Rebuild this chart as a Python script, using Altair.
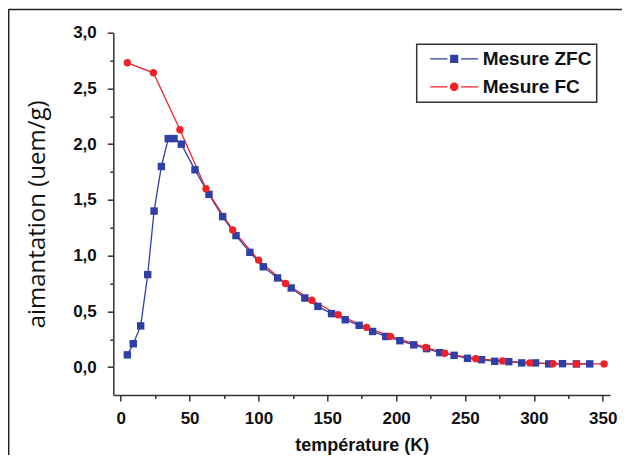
import altair as alt
import pandas as pd

# ---- data ----
zfc_T = [4.8, 9.1, 14.5, 19.6, 24.2, 29.5, 34.5, 38.7, 44.0, 53.9, 64.1, 74.0, 83.7,
         93.8, 103.5, 113.9, 123.8, 133.7, 143.2, 153.1, 163.0, 173.1, 182.9, 192.5,
         202.7, 212.8, 222.1, 231.7, 242.1, 251.8, 262.0, 271.6, 281.8, 291.2, 301.2,
         310.8, 320.8, 330.9, 340.6]
zfc_M = [0.11, 0.21, 0.37, 0.83, 1.40, 1.80, 2.05, 2.05, 2.00, 1.77, 1.55, 1.35, 1.18,
         1.03, 0.90, 0.80, 0.71, 0.62, 0.545, 0.48, 0.425, 0.375, 0.32, 0.275,
         0.237, 0.20, 0.166, 0.13, 0.106, 0.079, 0.067, 0.052, 0.049, 0.038, 0.038,
         0.029, 0.031, 0.029, 0.029]
fc_T = [4.8, 23.7, 43.0, 61.9, 81.3, 100.1, 119.7, 138.8, 157.9, 178.5, 195.9, 221.6,
        235.3, 257.8, 277.2, 297.0, 313.9, 330.9, 351.0]
fc_M = [2.73, 2.64, 2.13, 1.60, 1.23, 0.96, 0.75, 0.60, 0.47, 0.357, 0.276, 0.177,
        0.124, 0.076, 0.056, 0.038, 0.031, 0.029, 0.029]

series_names = ["Mesure ZFC", "Mesure FC"]
series_colors = ["#2f3fa5", "#ee2229"]
series_shapes = ["square", "circle"]

x_major = [0, 50, 100, 150, 200, 250, 300, 350]
x_minor = [25, 75, 125, 175, 225, 275, 325]
y_major = [0.0, 0.5, 1.0, 1.5, 2.0, 2.5, 3.0]
y_minor = [0.25, 0.75, 1.25, 1.75, 2.25, 2.75]

df = pd.concat([
    pd.DataFrame({"T": zfc_T, "M": zfc_M, "serie": series_names[0], "k": 0}),
    pd.DataFrame({"T": fc_T, "M": fc_M, "serie": series_names[1], "k": 1}),
], ignore_index=True)

LAB_FONT = "Liberation Sans"
AX_COL = "#333333"

xscale = alt.Scale(domain=[-5.4, 355.3], nice=False, zero=False)
yscale = alt.Scale(domain=[-0.25, 3.0], nice=False, zero=False)
cscale = alt.Scale(domain=series_names, range=series_colors)

# legend symbols: line - marker - line (wide paths, small nominal size)
path_zfc = "M-3,0H-0.85M0.85,0H3M-0.43,-0.43H0.43V0.43H-0.43Z"
path_fc = "M-3,0H-0.85M0.85,0H3M-0.46,0A0.46,0.46,0,1,0,0.46,0A0.46,0.46,0,1,0,-0.46,0Z"
lscale = alt.Scale(domain=series_names, range=[path_zfc, path_fc])

x_axis = alt.Axis(values=x_major, title="température (K)", grid=False,
                  labelFont=LAB_FONT, labelFontSize=17, labelFontWeight="bold",
                  labelColor="#111", labelPadding=9, tickSize=6, tickWidth=1.5,
                  tickColor=AX_COL, domainColor=AX_COL, domainWidth=1.5,
                  titleFont=LAB_FONT, titleFontSize=18, titleFontWeight="bold",
                  titleColor="#111", titleY=41, orient="bottom")
y_axis = alt.Axis(values=y_major, title="aimantation (uem/g)", grid=False,
                  labelExpr="replace(format(datum.value, '.1f'), '.', ',')",
                  labelFont=LAB_FONT, labelFontSize=17, labelFontWeight="bold",
                  labelColor="#111", labelPadding=11, tickSize=6, tickWidth=1.5,
                  tickColor=AX_COL, domainColor=AX_COL, domainWidth=1.5,
                  titleFont="Open Sans", titleFontSize=24, titleFontWeight="normal",
                  titleColor="#111", titleX=-64, orient="left")
x_axis_minor = alt.Axis(values=x_minor, labels=False, domain=False, grid=False,
                        tickSize=3.5, tickWidth=1.5, tickColor=AX_COL, title=None,
                        orient="bottom")
y_axis_minor = alt.Axis(values=y_minor, labels=False, domain=False, grid=False,
                        tickSize=3.5, tickWidth=1.5, tickColor=AX_COL, title=None,
                        orient="left")

legend = alt.Legend(
    title=None, orient="none", legendX=303.4, legendY=11.6, padding=5,
    strokeColor="#333", fillColor="white", symbolSize=256, symbolStrokeWidth=1.3,
    symbolOpacity=1, symbolFillColor="#000000", symbolStrokeColor="#000000",
    labelFont=LAB_FONT, labelFontSize=19, labelFontWeight="bold", labelColor="#111",
    labelOffset=19, rowPadding=8, symbolOffset=23,
    labelExpr="datum.label + '\u00a0\u00a0\u00a0\u00a0\u00a0'",
)

base = alt.Chart(df)

minor = base.mark_point(opacity=0, size=1).encode(
    x=alt.X("T:Q", scale=xscale, axis=x_axis_minor),
    y=alt.Y("M:Q", scale=yscale, axis=y_axis_minor),
)

lines = base.mark_line(strokeWidth=1.3).encode(
    x=alt.X("T:Q", scale=xscale, axis=x_axis),
    y=alt.Y("M:Q", scale=yscale, axis=y_axis),
    color=alt.Color("serie:N", scale=cscale, legend=None),
    detail="serie:N",
)

pts_zfc = base.transform_filter("datum.k == 0").mark_point(
    filled=True, opacity=1, size=55, shape=series_shapes[0]).encode(
    x=alt.X("T:Q", scale=xscale, axis=None),
    y=alt.Y("M:Q", scale=yscale, axis=None),
    color=alt.Color("serie:N", scale=cscale, legend=None),
)
pts_fc = base.transform_filter("datum.k == 1").mark_point(
    filled=True, opacity=1, size=55, shape=series_shapes[1]).encode(
    x=alt.X("T:Q", scale=xscale, axis=None),
    y=alt.Y("M:Q", scale=yscale, axis=None),
    color=alt.Color("serie:N", scale=cscale, legend=None),
)

# legend-only layer (no data drawn; entries come from the explicit domains)
legend_layer = base.transform_filter("datum.k < 0").transform_calculate(
    lg="datum.serie"
).mark_point(filled=True).encode(
    x=alt.X("T:Q", scale=xscale, axis=None),
    y=alt.Y("M:Q", scale=yscale, axis=None),
    fill=alt.Fill("lg:N", scale=cscale, legend=legend),
    stroke=alt.Stroke("lg:N", scale=cscale, legend=legend),
    shape=alt.Shape("lg:N", scale=lscale, legend=legend),
)

frame_df = pd.DataFrame({"a": [0]})
border_top = alt.Chart(frame_df).mark_rule(color="#222", strokeWidth=1.5).encode(
    x=alt.value(-105), x2=alt.value(520), y=alt.value(-23.2))
border_left = alt.Chart(frame_df).mark_rule(color="#222", strokeWidth=1.5).encode(
    x=alt.value(-104.6), y=alt.value(-23.2), y2=alt.value(431))

chart = alt.layer(border_top, border_left, minor, lines, pts_zfc, pts_fc, legend_layer).resolve_scale(
    x="shared", y="shared", fill="independent", stroke="independent", shape="independent"
).resolve_axis(
    x="independent", y="independent"
).properties(
    width=496.7, height=362.3,
    autosize=alt.AutoSizeParams(type="none"),
    padding={"left": 105.3, "top": 24.7, "right": 12, "bottom": 60},
    background="white",
).configure_view(stroke=None).configure_legend(strokeWidth=1.5)

chart.save("out.html", embed_options={"renderer": "svg", "actions": False})
